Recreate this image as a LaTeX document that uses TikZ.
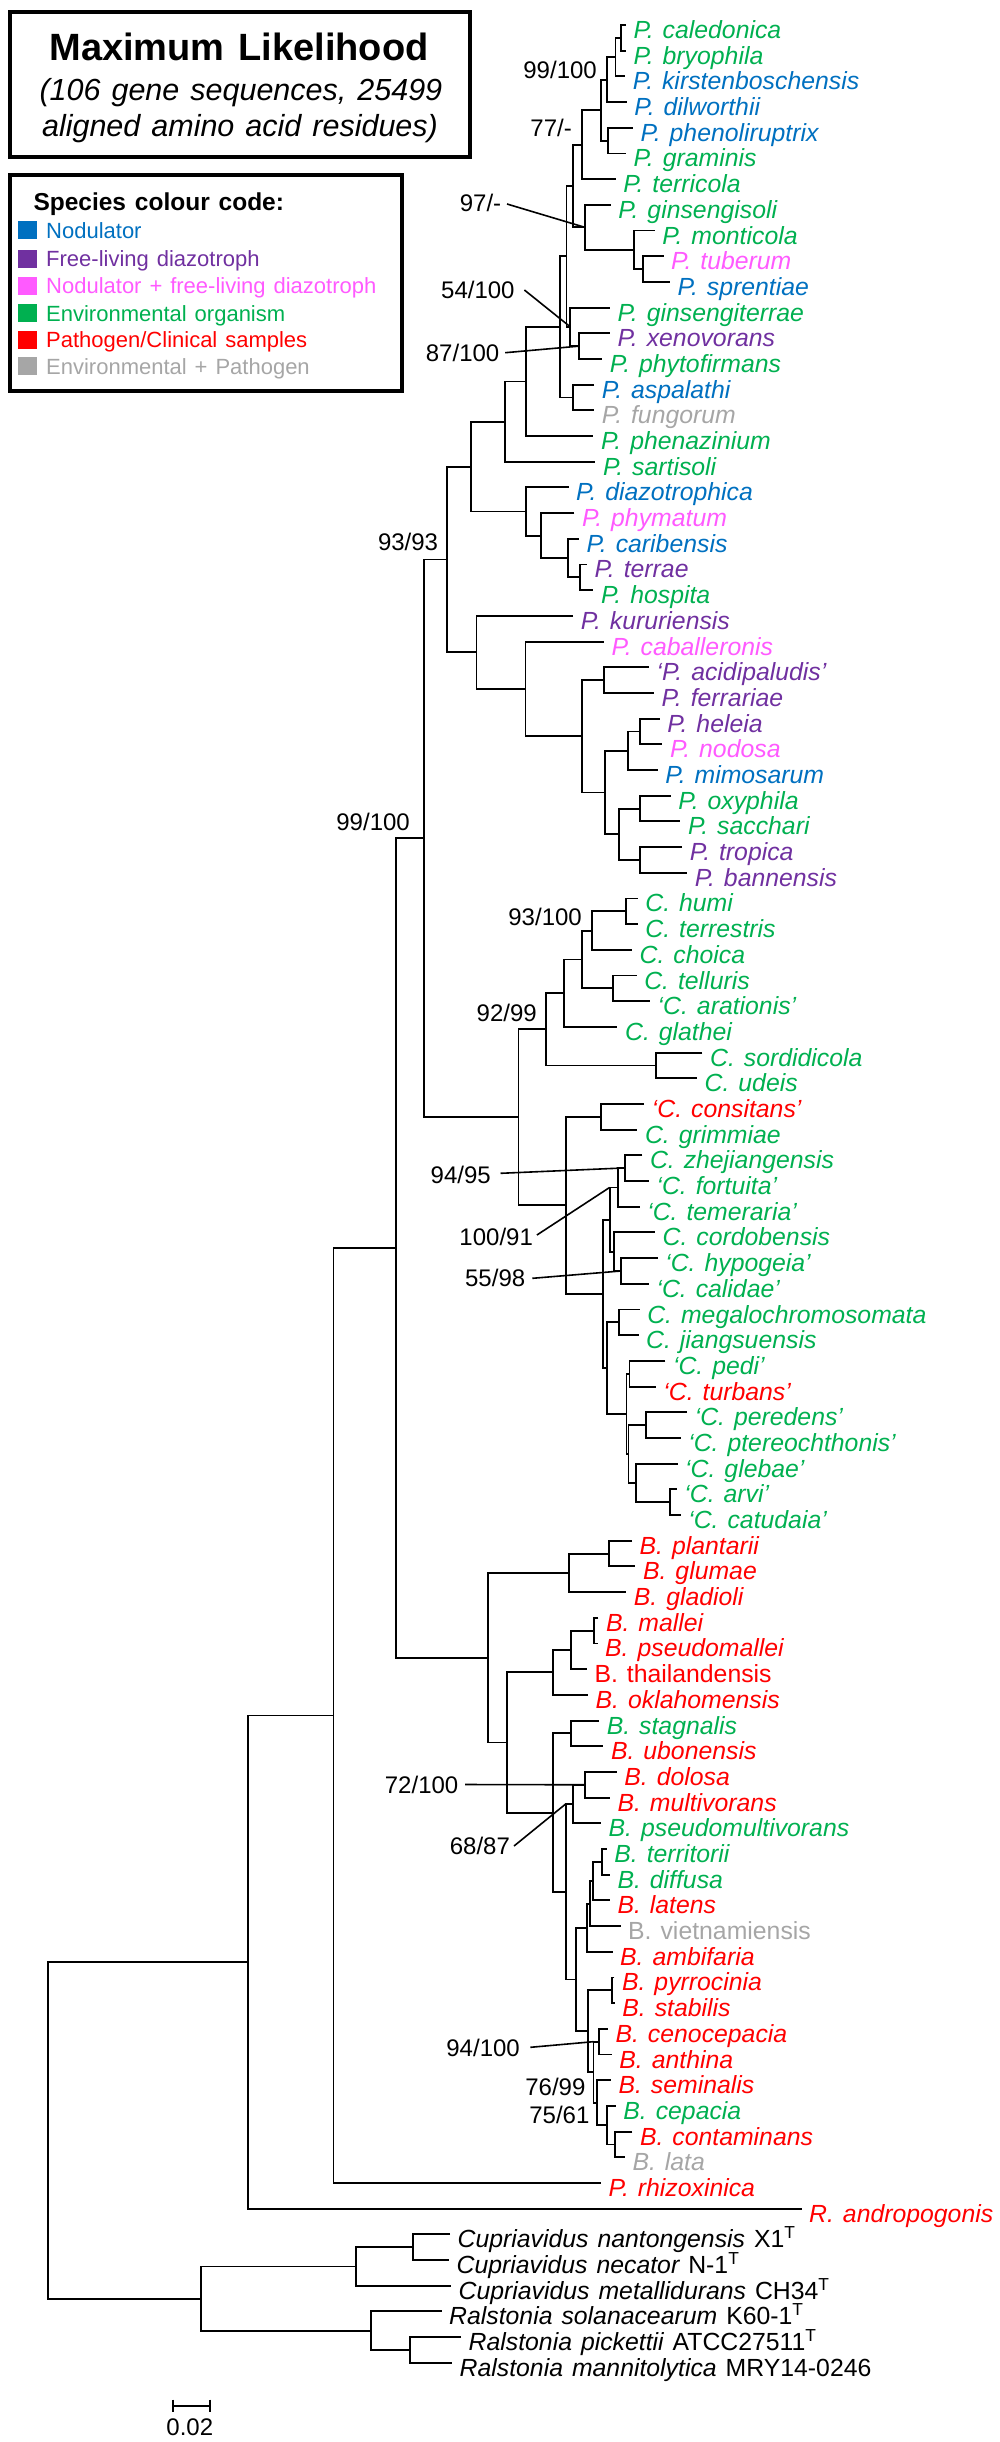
\documentclass[tikz,border=0pt]{standalone}
\usepackage{fontspec}
\setmainfont[WordSpace=1.3]{Liberation Sans}
\definecolor{nod}{RGB}{0,112,192}
\definecolor{fld}{RGB}{112,48,160}
\definecolor{ndf}{RGB}{255,90,255}
\definecolor{env}{RGB}{0,176,80}
\definecolor{pth}{RGB}{255,0,0}
\definecolor{enp}{RGB}{166,166,166}
\newcommand\ry[1]{25+(#1-1)*25.69}
\newcommand\leaf[5]{\coordinate (#1) at (#2,{\ry{#3}}); \node[tx,text=#4] (n#1) at (#1) {#5};}
\newcommand\br[4]{\coordinate (#1) at (#2,{\ry{#3}}); \draw[tree] #4;}
\begin{document}
\begin{tikzpicture}[x=1pt,y=-1pt,
  tree/.style={line width=1.9pt, line join=miter},
  ptr/.style={line width=1.6pt},
  tx/.style={anchor=base west, inner sep=0pt, xshift=7.5pt, yshift=-13.5pt, font=\fontsize{24.8}{28}\selectfont\itshape},
  sup/.style={anchor=base east, inner sep=0pt, font=\fontsize{24}{28}\selectfont},
  sq/.style={minimum width=19pt, minimum height=18pt, inner sep=0pt},
  lg/.style={anchor=base west, inner sep=0pt, font=\fontsize{22}{26}\selectfont},
  bx/.style={draw, line width=4pt, inner sep=0pt}]
\useasboundingbox (0,0) rectangle (1000,2442);

% ---------- title and legend ----------
\node[bx, minimum width=460.5pt, minimum height=145pt] (titlebox) at (239.75,84.5) {};
\node[anchor=base, inner sep=0pt, font=\fontsize{38}{44}\selectfont\bfseries] (ttl) at (239,60) {Maximum Likelihood};
\node[anchor=base, inner sep=0pt, font=\fontsize{30.5}{36}\selectfont\itshape] (st1) at (240.9,100) {(106 gene sequences, 25499};
\node[anchor=base, inner sep=0pt, font=\fontsize{30.5}{36}\selectfont\itshape] (st2) at (240,136.7) {aligned amino acid residues)};

\node[bx, minimum width=392.5pt, minimum height=216pt] (legbox) at (205.75,283.3) {};
\node[anchor=base west, inner sep=0pt, font=\fontsize{24.5}{28}\selectfont\bfseries] (lh) at (33.3,210) {Species colour code:};
\node[sq, fill=nod] (k1) at (27,230) {};   \node[lg, text=nod] (kt1) at (46,238) {Nodulator};
\node[sq, fill=fld] (k2) at (27,258.5) {}; \node[lg, text=fld] (kt2) at (46,266.5) {Free-living diazotroph};
\node[sq, fill=ndf] (k3) at (27,285.5) {}; \node[lg, text=ndf] (kt3) at (46,293.5) {Nodulator + free-living diazotroph};
\node[sq, fill=env] (k4) at (27,313) {};   \node[lg, text=env] (kt4) at (46,321) {Environmental organism};
\node[sq, fill=pth] (k5) at (27,339.5) {}; \node[lg, text=pth] (kt5) at (46,347.5) {Pathogen/Clinical samples};
\node[sq, fill=enp] (k6) at (27,366) {};   \node[lg, text=enp] (kt6) at (46,374) {Environmental + Pathogen};

% ---------- leaves ----------
\leaf{t1}{625.8}{1}{env}{P. caledonica}
\leaf{t2}{625.8}{2}{env}{P. bryophila}
\leaf{t3}{625.2}{3}{nod}{P. kirstenboschensis}
\leaf{t4}{626.7}{4}{nod}{P. dilworthii}
\leaf{t5}{632.8}{5}{nod}{P. phenoliruptrix}
\leaf{t6}{625.9}{6}{env}{P. graminis}
\leaf{t7}{615.6}{7}{env}{P. terricola}
\leaf{t8}{610.6}{8}{env}{P. ginsengisoli}
\leaf{t9}{654.6}{9}{env}{P. monticola}
\leaf{t10}{663.5}{10}{ndf}{P. tuberum}
\leaf{t11}{670}{11}{nod}{P. sprentiae}
\leaf{t12}{609.9}{12}{env}{P. ginsengiterrae}
\leaf{t13}{609.9}{13}{fld}{P. xenovorans}
\leaf{t14}{602.2}{14}{env}{P. phytofirmans}
\leaf{t15}{594.2}{15}{nod}{P. aspalathi}
\leaf{t16}{594.2}{16}{enp}{P. fungorum}
\leaf{t17}{593.4}{17}{env}{P. phenazinium}
\leaf{t18}{595.3}{18}{env}{P. sartisoli}
\leaf{t19}{568.5}{19}{nod}{P. diazotrophica}
\leaf{t20}{574.3}{20}{ndf}{P. phymatum}
\leaf{t21}{578.9}{21}{nod}{P. caribensis}
\leaf{t22}{586.9}{22}{fld}{P. terrae}
\leaf{t23}{593.4}{23}{env}{P. hospita}
\leaf{t24}{573.1}{24}{fld}{P. kururiensis}
\leaf{t25}{603.8}{25}{ndf}{P. caballeronis}
\leaf{t26}{648.9}{26}{fld}{‘P. acidipaludis’}
\leaf{t27}{653.9}{27}{fld}{P. ferrariae}
\leaf{t28}{659.6}{28}{fld}{P. heleia}
\leaf{t29}{662.3}{29}{ndf}{P. nodosa}
\leaf{t30}{657.7}{30}{nod}{P. mimosarum}
\leaf{t31}{670.7}{31}{env}{P. oxyphila}
\leaf{t32}{680.3}{32}{env}{P. sacchari}
\leaf{t33}{682.2}{33}{fld}{P. tropica}
\leaf{t34}{687.1}{34}{fld}{P. bannensis}
\leaf{t35}{637.7}{35}{env}{C. humi}
\leaf{t36}{637.7}{36}{env}{C. terrestris}
\leaf{t37}{632}{37}{env}{C. choica}
\leaf{t38}{636.6}{38}{env}{C. telluris}
\leaf{t39}{650}{39}{env}{‘C. arationis’}
\leaf{t40}{617.4}{40}{env}{C. glathei}
\leaf{t41}{702.4}{41}{env}{C. sordidicola}
\leaf{t42}{697}{42}{env}{C. udeis}
\leaf{t43}{644.2}{43}{pth}{‘C. consitans’}
\leaf{t44}{637.3}{44}{env}{C. grimmiae}
\leaf{t45}{642.3}{45}{env}{C. zhejiangensis}
\leaf{t46}{648.8}{46}{env}{‘C. fortuita’}
\leaf{t47}{639.6}{47}{env}{‘C. temeraria’}
\leaf{t48}{654.9}{48}{env}{C. cordobensis}
\leaf{t49}{657.6}{49}{env}{‘C. hypogeia’}
\leaf{t50}{648.8}{50}{env}{‘C. calidae’}
\leaf{t51}{639.6}{51}{env}{C. megalochromosomata}
\leaf{t52}{638.5}{52}{env}{C. jiangsuensis}
\leaf{t53}{665.3}{53}{env}{‘C. pedi’}
\leaf{t54}{655.7}{54}{pth}{‘C. turbans’}
\leaf{t55}{687.1}{55}{env}{‘C. peredens’}
\leaf{t56}{680.6}{56}{env}{‘C. ptereochthonis’}
\leaf{t57}{677.5}{57}{env}{‘C. glebae’}
\leaf{t58}{676.7}{58}{env}{‘C. arvi’}
\leaf{t59}{680.6}{59}{env}{‘C. catudaia’}
\leaf{t60}{632}{60}{pth}{B. plantarii}
\leaf{t61}{635.4}{61}{pth}{B. glumae}
\leaf{t62}{626.2}{62}{pth}{B. gladioli}
\leaf{t63}{598.3}{63}{pth}{B. mallei}
\leaf{t64}{597.5}{64}{pth}{B. pseudomallei}
\leaf{t65}{586.8}{65}{pth}{\upshape B. thailandensis}
\leaf{t66}{588}{66}{pth}{B. oklahomensis}
\leaf{t67}{599.1}{67}{env}{B. stagnalis}
\leaf{t68}{603.3}{68}{pth}{B. ubonensis}
\leaf{t69}{616.7}{69}{pth}{B. dolosa}
\leaf{t70}{609.8}{70}{pth}{B. multivorans}
\leaf{t71}{601}{71}{env}{B. pseudomultivorans}
\leaf{t72}{606.7}{72}{env}{B. territorii}
\leaf{t73}{609.8}{73}{env}{B. diffusa}
\leaf{t74}{609.8}{74}{pth}{B. latens}
\leaf{t75}{620.5}{75}{enp}{\upshape B. vietnamiensis}
\leaf{t76}{612.5}{76}{pth}{B. ambifaria}
\leaf{t77}{614.4}{77}{pth}{B. pyrrocinia}
\leaf{t78}{614.7}{78}{pth}{B. stabilis}
\leaf{t79}{607.9}{79}{pth}{B. cenocepacia}
\leaf{t80}{611.7}{80}{pth}{B. anthina}
\leaf{t81}{610.9}{81}{pth}{B. seminalis}
\leaf{t82}{615.7}{82}{env}{B. cepacia}
\leaf{t83}{632.3}{83}{pth}{B. contaminans}
\leaf{t84}{624.8}{84}{enp}{B. lata}
\leaf{t85}{601}{85}{pth}{P. rhizoxinica}
\leaf{t86}{801.5}{86}{pth}{R. andropogonis}
\leaf{t87}{450}{87}{black}{Cupriavidus nantongensis {\upshape X1\textsuperscript{T}}}
\leaf{t88}{449}{88}{black}{Cupriavidus necator {\upshape N-1\textsuperscript{T}}}
\leaf{t89}{451}{89}{black}{Cupriavidus metallidurans {\upshape CH34\textsuperscript{T}}}
\leaf{t90}{441.5}{90}{black}{Ralstonia solanacearum {\upshape K60-1\textsuperscript{T}}}
\leaf{t91}{461}{91}{black}{Ralstonia pickettii {\upshape ATCC27511\textsuperscript{T}}}
\leaf{t92}{452}{92}{black}{Ralstonia mannitolytica {\upshape MRY14-0246}}

% ---------- internal nodes and branches ----------
\br{A1}{621.2}{1.5}{(t1) -| (A1) |- (t2)}
\br{A2}{615.5}{2.25}{(A1) -| (A2) |- (t3)}
\br{A3}{606.7}{3.125}{(A2) -| (A3) |- (t4)}
\br{PG}{607.8}{5.5}{(t5) -| (PG) |- (t6)}
\br{A4}{600.9}{4.3125}{(A3) -| (A4) |- (PG)}
\br{A5}{581.8}{5.65625}{(A4) -| (A5) |- (t7)}
\br{G3}{642.6}{10.5}{(t10) -| (G3) |- (t11)}
\br{G2}{634.2}{9.75}{(t9) -| (G2) |- (G3)}
\br{G1}{584.8}{8.875}{(t8) -| (G1) |- (G2)}
\br{A6}{573}{7.265625}{(A5) -| (A6) |- (G1)}
\br{XP}{579.1}{13.5}{(t13) -| (XP) |- (t14)}
\br{W2}{570.3}{12.75}{(t12) -| (W2) |- (XP)}
\br{W1}{566.5}{10.0078125}{(A6) -| (W1) |- (W2)}
\br{AF}{573.4}{15.5}{(t15) -| (AF) |- (t16)}
\br{W0}{560}{12.75390625}{(W1) -| (W0) |- (AF)}
\br{B1}{526.3}{14.876953}{(W0) -| (B1) |- (t17)}
\br{B2}{505.2}{16.438477}{(B1) -| (B2) |- (t18)}
\br{TH}{579.9}{22.5}{(t22) -| (TH) |- (t23)}
\br{CT}{567.6}{21.75}{(t21) -| (CT) |- (TH)}
\br{PC}{540.8}{20.875}{(t20) -| (PC) |- (CT)}
\br{DZ}{526.3}{19.9375}{(t19) -| (DZ) |- (PC)}
\br{B3}{470.8}{18.187988}{(B2) -| (B3) |- (DZ)}
\br{AcF}{604}{26.5}{(t26) -| (AcF) |- (t27)}
\br{HN}{640.3}{28.5}{(t28) -| (HN) |- (t29)}
\br{HNM}{627.7}{29.25}{(HN) -| (HNM) |- (t30)}
\br{OS}{640.3}{31.5}{(t31) -| (OS) |- (t32)}
\br{TB}{640.3}{33.5}{(t33) -| (TB) |- (t34)}
\br{OSTB}{618.9}{32.5}{(OS) -| (OSTB) |- (TB)}
\br{D1}{604.7}{30.875}{(HNM) -| (D1) |- (OSTB)}
\br{C3}{581.8}{28.6875}{(AcF) -| (C3) |- (D1)}
\br{C2}{525.5}{26.84375}{(t25) -| (C2) |- (C3)}
\br{C1}{476.5}{25.421875}{(t24) -| (C1) |- (C2)}
\br{B4}{446.7}{21.804932}{(B3) -| (B4) |- (C1)}
\br{HT}{626.1}{35.5}{(t35) -| (HT) |- (t36)}
\br{H2}{591.6}{36.25}{(HT) -| (H2) |- (t37)}
\br{TA}{613.4}{38.5}{(t38) -| (TA) |- (t39)}
\br{H3}{582.1}{37.375}{(H2) -| (H3) |- (TA)}
\br{H4}{563.7}{38.6875}{(H3) -| (H4) |- (t40)}
\br{SU}{656.3}{41.5}{(t41) -| (SU) |- (t42)}
\br{H5}{545.7}{40.09375}{(H4) -| (H5) |- (SU)}
\br{CG}{600.8}{43.5}{(t43) -| (CG) |- (t44)}
\br{ZF}{624.9}{45.5}{(t45) -| (ZF) |- (t46)}
\br{J1}{618}{46.25}{(ZF) -| (J1) |- (t47)}
\br{HC}{621.1}{49.5}{(t49) -| (HC) |- (t50)}
\br{K1}{614.2}{48.75}{(t48) -| (K1) |- (HC)}
\br{K2}{609.6}{47.5}{(J1) -| (K2) |- (K1)}
\br{MJ}{619.2}{51.5}{(t51) -| (MJ) |- (t52)}
\br{PT}{629.5}{53.5}{(t53) -| (PT) |- (t54)}
\br{PP}{646}{55.5}{(t55) -| (PP) |- (t56)}
\br{AC}{669.7}{58.5}{(t58) -| (AC) |- (t59)}
\br{L1}{636.4}{57.75}{(t57) -| (L1) |- (AC)}
\br{L2}{628.5}{56.625}{(PP) -| (L2) |- (L1)}
\br{M1}{626.5}{55.0625}{(PT) -| (M1) |- (L2)}
\br{N1}{607}{53.28125}{(MJ) -| (N1) |- (M1)}
\br{N2}{603.1}{50.390625}{(K2) -| (N2) |- (N1)}
\br{I1}{566.4}{46.9453125}{(CG) -| (I1) |- (N2)}
\br{C0}{518.5}{43.51953}{(H5) -| (C0) |- (I1)}
\br{E1}{424.3}{32.66223}{(B4) -| (E1) |- (C0)}
\br{PGa}{608.9}{60.5}{(t60) -| (PGa) |- (t61)}
\br{PGG}{568.7}{61.25}{(PGa) -| (PGG) |- (t62)}
\br{MP}{594.3}{63.5}{(t63) -| (MP) |- (t64)}
\br{MPT}{571.3}{64.25}{(MP) -| (MPT) |- (t65)}
\br{Q1}{553.4}{65.125}{(MPT) -| (Q1) |- (t66)}
\br{SB}{571.3}{67.5}{(t67) -| (SB) |- (t68)}
\br{DM}{584.7}{69.5}{(t69) -| (DM) |- (t70)}
\br{DMP}{573.3}{70.25}{(DM) -| (DMP) |- (t71)}
\br{TD}{602}{72.5}{(t72) -| (TD) |- (t73)}
\br{TDL}{593.2}{73.25}{(TD) -| (TDL) |- (t74)}
\br{TDLV}{589.7}{74.125}{(TDL) -| (TDLV) |- (t75)}
\br{T1}{586.7}{75.0625}{(TDLV) -| (T1) |- (t76)}
\br{PS}{612.3}{77.5}{(t77) -| (PS) |- (t78)}
\br{CA}{598.7}{79.5}{(t79) -| (CA) |- (t80)}
\br{CL}{615.3}{83.5}{(t83) -| (CL) |- (t84)}
\br{CCL}{607.4}{82.75}{(t82) -| (CCL) |- (CL)}
\br{V1}{596.7}{81.875}{(t81) -| (V1) |- (CCL)}
\br{V2}{593.5}{80.6875}{(CA) -| (V2) |- (V1)}
\br{U1}{587.6}{79.09375}{(PS) -| (U1) |- (V2)}
\br{T0}{575.9}{77.078125}{(T1) -| (T0) |- (U1)}
\br{R0}{565.6}{73.6640625}{(DMP) -| (R0) |- (T0)}
\br{Q2}{553.4}{70.58203}{(SB) -| (Q2) |- (R0)}
\br{Q0}{507.1}{67.853516}{(Q1) -| (Q0) |- (Q2)}
\br{P0}{488.3}{64.551758}{(PGG) -| (P0) |- (Q0)}
\br{E0}{396}{48.606994}{(E1) -| (E0) |- (P0)}
\br{F1}{333.5}{66.803497}{(E0) -| (F1) |- (t85)}
\br{F2}{248}{76.401749}{(F1) -| (F2) |- (t86)}
\br{NN}{413.2}{87.5}{(t87) -| (NN) |- (t88)}
\br{O2}{355.9}{88.25}{(NN) -| (O2) |- (t89)}
\br{PM}{410}{91.5}{(t91) -| (PM) |- (t92)}
\br{R1}{370.9}{90.75}{(t90) -| (R1) |- (PM)}
\br{O1}{200.9}{89.5}{(O2) -| (O1) |- (R1)}
\br{RT}{48.2}{82.950874}{(F2) -| (RT) |- (O1)}

% ---------- support values ----------
\node[sup] (s1) at (597,78.6) {99/100};
\node[sup] (s2) at (572,136.9) {77/-};
\node[sup] (s3) at (501.4,211.3) {97/-};
\node[sup] (s4) at (514.8,298.6) {54/100};
\node[sup] (s5) at (499.5,361.6) {87/100};
\node[sup] (s6) at (438.3,550.6) {93/93};
\node[sup] (s7) at (410,830.6) {99/100};
\node[sup] (s8) at (582,925.3) {93/100};
\node[sup] (s9) at (537,1021.3) {92/99};
\node[sup] (s10) at (491,1183.6) {94/95};
\node[sup] (s11) at (533.1,1245.3) {100/91};
\node[sup] (s12) at (525.4,1286.9) {55/98};
\node[sup] (s13) at (458.5,1793.6) {72/100};
\node[sup] (s14) at (510.1,1854.6) {68/87};
\node[sup] (s15) at (520,2056.9) {94/100};
\node[sup] (s16) at (585.6,2095.9) {76/99};
\node[sup] (s17) at (589.6,2123.6) {75/61};

\coordinate (p3) at (507,204);
\coordinate (p4) at (524.4,290);
\coordinate (p5) at (505.2,352.7);
\coordinate (p10) at (500.5,1173.3);
\coordinate (p11) at (536.9,1235);
\coordinate (p12) at (532.3,1278.3);
\coordinate (p13) at (465,1784.5);
\coordinate (p14) at (514,1846);
\coordinate (p15) at (530.3,2047.3);
\draw[ptr] (p3) -- (G1);
\draw[ptr] (p4) -- (W2);
\draw[ptr] (p5) -- (XP);
\draw[ptr] (p10) -- (J1 |- ZF);
\draw[ptr] (p11) -- (K2 |- J1);
\draw[ptr] (p12) -- (HC);
\draw[ptr] (p13) -- (DM);
\draw[ptr] (p14) -- (R0 |- DMP);
\draw[ptr] (p15) -- (V2 |- CA);

% ---------- scale bar ----------
\coordinate (sb1) at (173.2,2405.7);
\coordinate (sb2) at (210.4,2405.7);
\draw[tree] (sb1) -- (sb2);
\draw[tree] ([yshift=6pt]sb1) -- ([yshift=-6pt]sb1);
\draw[tree] ([yshift=6pt]sb2) -- ([yshift=-6pt]sb2);
\node[anchor=base, inner sep=0pt, font=\fontsize{24}{28}\selectfont] (sbl) at (189.8,2435) {0.02};
\end{tikzpicture}
\end{document}
